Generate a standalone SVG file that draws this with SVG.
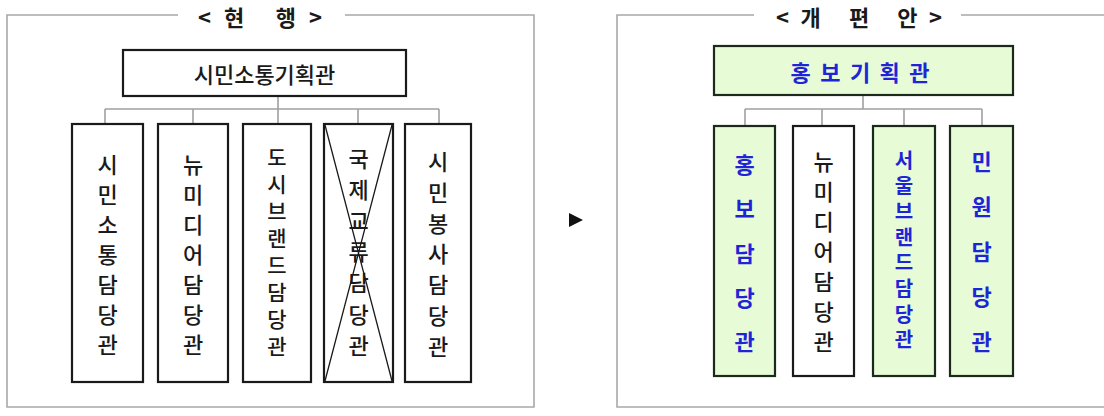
<svg xmlns="http://www.w3.org/2000/svg" width="1104" height="416" viewBox="0 0 1104 416">
<style>
.frame{fill:none;stroke:#a8a8a8;stroke-width:1.6}
.conn{fill:none;stroke:#a0a0a0;stroke-width:1.6}
.box{fill:#fff;stroke:#1a1a1a;stroke-width:2.2}
.gbox{fill:#e6fbd6;stroke:#1c2a1c;stroke-width:2.2}
.t{font-family:"Noto Sans CJK KR","Noto Sans",sans-serif;fill:#1a1a1a;font-size:22px;font-weight:500;text-anchor:middle;dominant-baseline:central}
.b{fill:#1f24d6;font-weight:bold}
.title{font-family:"Noto Sans CJK KR","Noto Sans",sans-serif;fill:#1a1a1a;font-size:22px;font-weight:bold}
.v{font-family:"Noto Sans CJK KR","Noto Sans",sans-serif;writing-mode:vertical-rl;text-orientation:upright;fill:#1a1a1a;font-weight:500}
.vb{fill:#1f24d6;font-weight:bold}
</style>
<rect width="1104" height="416" fill="#fff"/>
<g id="frame-left">
<path class="frame" d="M178,15 H7 V407 H534 V15 H345"/>
<text class="title" x="198" y="26" textLength="124" lengthAdjust="spacing">&lt;현 행&gt;</text>
</g>
<g id="frame-right">
<path class="frame" d="M754,15 H617 V407 H1110 M1110,15 H961"/>
<text class="title" x="776" y="26" textLength="166" lengthAdjust="spacing">&lt;개 편 안&gt;</text>
</g>
<g id="arrow">
<polygon points="569,213 583,220 569,227" fill="#111"/>
</g>
<g id="connectors">
<path class="conn" d="M278,96 V109 M105,109 H439 M105,109 V124 M193,109 V124 M278,109 V124 M358,109 V124 M439,109 V124"/>
<path class="conn" d="M863,95 V109 M745,109 H982 M745,109 V126 M822,109 V126 M904,109 V126 M982,109 V126"/>
</g>
<g id="node-l-top">
<rect class="box" x="123" y="50" width="283" height="46"/>
<text class="t" x="264.5" y="73" font-size="23" font-weight="bold">시민소통기획관</text>
</g>
<g id="node-l1">
<rect class="box" x="72" y="124" width="71" height="258"/>
<text class="t"><tspan x="107.5" y="163">시</tspan><tspan x="107.5" y="193">민</tspan><tspan x="107.5" y="223">소</tspan><tspan x="107.5" y="253">통</tspan><tspan x="107.5" y="283">담</tspan><tspan x="107.5" y="313">당</tspan><tspan x="107.5" y="343">관</tspan></text>
</g>
<g id="node-l2">
<rect class="box" x="158" y="124" width="70" height="258"/>
<text class="t"><tspan x="193" y="163">뉴</tspan><tspan x="193" y="193">미</tspan><tspan x="193" y="223">디</tspan><tspan x="193" y="253">어</tspan><tspan x="193" y="283">담</tspan><tspan x="193" y="313">당</tspan><tspan x="193" y="343">관</tspan></text>
</g>
<g id="node-l3">
<rect class="box" x="243" y="124" width="68" height="258"/>
<text class="v" x="277" y="146.5" font-size="21" letter-spacing="6">도시브랜드담당관</text>
</g>
<g id="node-l4">
<rect class="box" x="324" y="124" width="69" height="258"/>
<text class="t"><tspan x="358.5" y="157">국</tspan><tspan x="358.5" y="188">제</tspan><tspan x="358.5" y="219">교</tspan><tspan x="358.5" y="250">류</tspan><tspan x="358.5" y="281">담</tspan><tspan x="358.5" y="313">당</tspan><tspan x="358.5" y="344">관</tspan></text>
<path d="M325,125 L392,381 M392,125 L325,381" stroke="#1a1a1a" stroke-width="1.3" fill="none"/>
</g>
<g id="node-l5">
<rect class="box" x="405" y="124" width="66" height="258"/>
<text class="t"><tspan x="438" y="160">시</tspan><tspan x="438" y="191">민</tspan><tspan x="438" y="222">봉</tspan><tspan x="438" y="252">사</tspan><tspan x="438" y="283">담</tspan><tspan x="438" y="314">당</tspan><tspan x="438" y="345">관</tspan></text>
</g>
<g id="node-r-top">
<rect class="gbox" x="714" y="46" width="299" height="49"/>
<text class="t b" x="860" y="71" textLength="139" lengthAdjust="spacing">홍보기획관</text>
</g>
<g id="node-r1">
<rect class="gbox" x="714" y="126" width="61" height="250"/>
<text class="t b"><tspan x="744.5" y="163">홍</tspan><tspan x="744.5" y="207">보</tspan><tspan x="744.5" y="252">담</tspan><tspan x="744.5" y="296">당</tspan><tspan x="744.5" y="340">관</tspan></text>
</g>
<g id="node-r2">
<rect class="box" x="793" y="126" width="61" height="250"/>
<text class="t"><tspan x="823.5" y="160">뉴</tspan><tspan x="823.5" y="190">미</tspan><tspan x="823.5" y="220">디</tspan><tspan x="823.5" y="250">어</tspan><tspan x="823.5" y="280">담</tspan><tspan x="823.5" y="310">당</tspan><tspan x="823.5" y="340">관</tspan></text>
</g>
<g id="node-r3">
<rect class="gbox" x="873" y="126" width="62" height="250"/>
<text class="v vb" x="904" y="150" font-size="20" letter-spacing="5.7">서울브랜드담당관</text>
</g>
<g id="node-r4">
<rect class="gbox" x="950" y="126" width="63" height="250"/>
<text class="t b"><tspan x="981.5" y="160">민</tspan><tspan x="981.5" y="205">원</tspan><tspan x="981.5" y="250">담</tspan><tspan x="981.5" y="295">당</tspan><tspan x="981.5" y="340">관</tspan></text>
</g>
</svg>
